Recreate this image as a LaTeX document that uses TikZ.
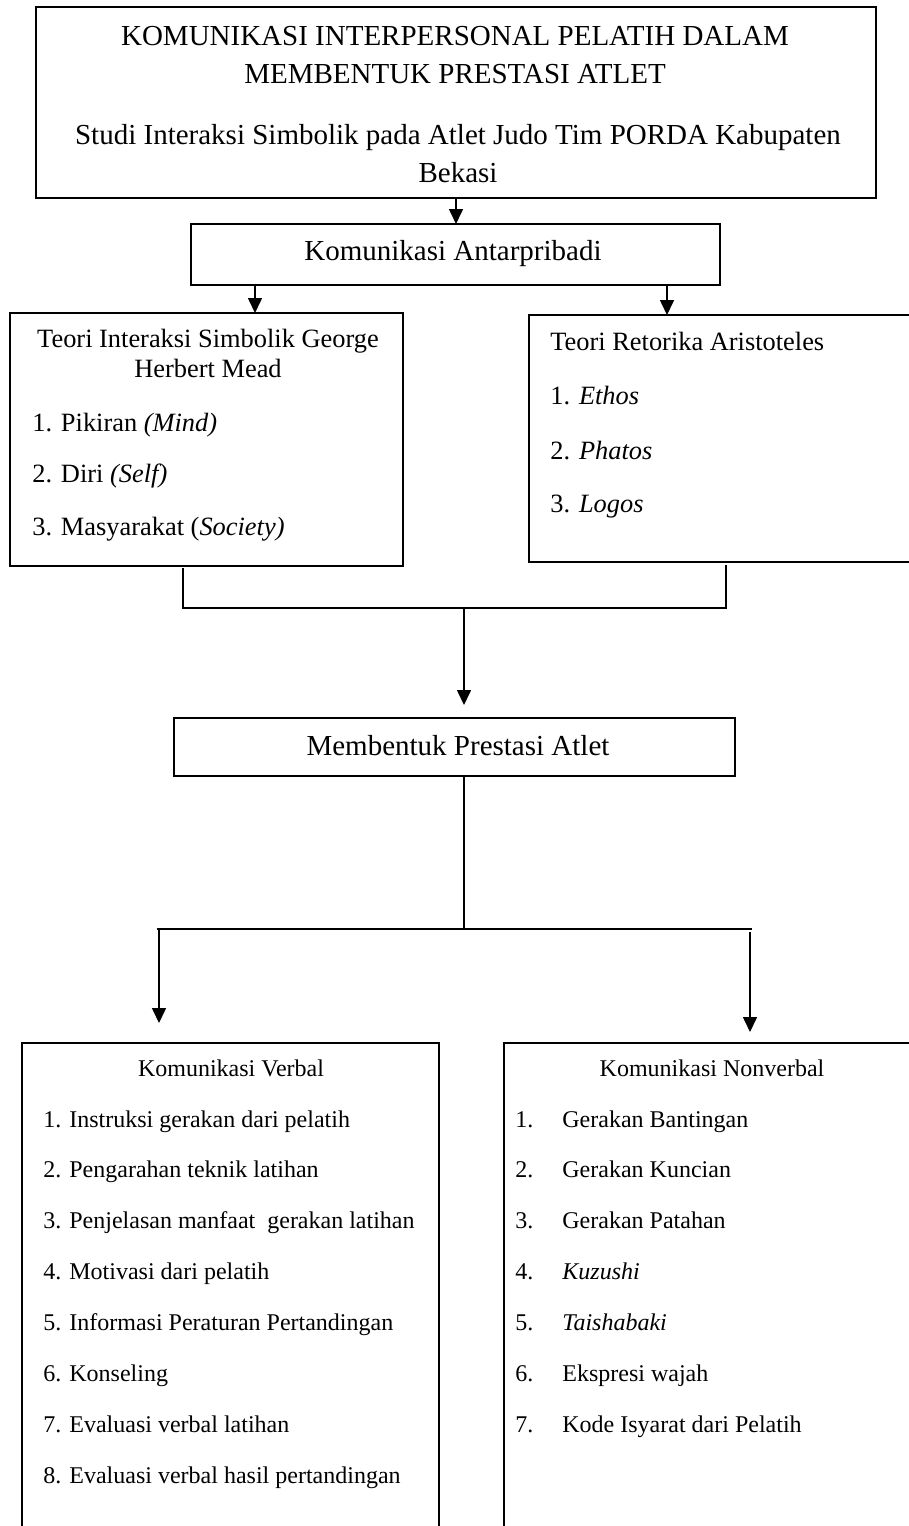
\documentclass[tikz,border=0pt]{standalone}
\usepackage{fontspec}
\setmainfont{Liberation Serif}
\usetikzlibrary{arrows.meta}
\begin{document}
\begin{tikzpicture}[x=0.5pt,y=-0.5pt,
  box/.style={draw,line width=0.9pt,inner sep=0pt,outer sep=0pt},
  conn/.style={line width=0.8pt},
  arr/.style={conn,-{Triangle[length=7.5pt,width=7pt]}},
  big/.style={font=\fontsize{14.5}{19}\selectfont,inner sep=0pt,align=center},
  mid/.style={font=\fontsize{13.2}{15}\selectfont,inner sep=0pt,align=center},
  sml/.style={font=\fontsize{12}{14}\selectfont,inner sep=0pt}]
\useasboundingbox (0,0) rectangle (909,1526);
\fill[white] (0,0) rectangle (909,1526);
\clip (0,0) rectangle (909,1526);
% boxes
\node[box,minimum width=420pt,minimum height=95.5pt] (top) at (456,102.5) {};
\node[box,minimum width=264.5pt,minimum height=30.5pt] (ka) at (455.5,254.5) {};
\node[box,minimum width=196.5pt,minimum height=126.5pt] (lb) at (206.5,439.5) {};
\node[box,minimum width=200.5pt,minimum height=123.5pt] (rb) at (729.5,438.5) {};
\node[box,minimum width=280.5pt,minimum height=29pt] (mb) at (454.5,747) {};
\node[box,minimum width=208.5pt,minimum height=258.5pt] (vb) at (230.5,1301.5) {};
\node[box,minimum width=213pt,minimum height=258.5pt] (nb) at (717,1301.5) {};
% texts (base anchor = baseline of last line)
\node[big,anchor=base] (t1) at (455,83) {KOMUNIKASI INTERPERSONAL PELATIH DALAM\\MEMBENTUK PRESTASI ATLET};
\node[big,anchor=base] (t2) at (458,182) {Studi Interaksi Simbolik pada Atlet Judo Tim PORDA Kabupaten\\Bekasi};
\node[big,anchor=base] (kat) at (453,260) {Komunikasi Antarpribadi};
\node[mid,anchor=base] (lbt) at (208,377) {Teori Interaksi Simbolik George\\Herbert Mead};
\node[mid,anchor=base west] (l1) at (32,431) {1. Pikiran \textit{(Mind)}};
\node[mid,anchor=base west] (l2) at (32,482) {2. Diri \textit{(Self)}};
\node[mid,anchor=base west] (l3) at (32,535) {3. Masyarakat (\textit{Society)}};
\node[mid,anchor=base west] (rbt) at (550,350) {Teori Retorika Aristoteles};
\node[mid,anchor=base west] (r1) at (550,404) {1. \textit{Ethos}};
\node[mid,anchor=base west] (r2) at (550,459) {2. \textit{Phatos}};
\node[mid,anchor=base west] (r3) at (550,512) {3. \textit{Logos}};
\node[big,anchor=base] (mbt) at (458,755) {Membentuk Prestasi Atlet};
\node[sml,anchor=base] (vbt) at (231,1076) {Komunikasi Verbal};
\node[sml,anchor=base] (nbt) at (712,1076) {Komunikasi Nonverbal};
\foreach \t [count=\i] in {Instruksi gerakan dari pelatih,Pengarahan teknik latihan,Penjelasan manfaat\ \ gerakan latihan,Motivasi dari pelatih,Informasi Peraturan Pertandingan,Konseling,Evaluasi verbal latihan,Evaluasi verbal hasil pertandingan}
  \node[sml,anchor=base west] (v\i) at (43,{1127+50.9*(\i-1)}) {\i. \t};
\foreach \t [count=\i] in {Gerakan Bantingan,Gerakan Kuncian,Gerakan Patahan,\textit{Kuzushi},\textit{Taishabaki},Ekspresi wajah,Kode Isyarat dari Pelatih}{
  \node[sml,anchor=base west] (nn\i) at (515,{1127+50.9*(\i-1)}) {\i.};
  \node[sml,anchor=base west] (n\i) at (562,{1127+50.9*(\i-1)}) {\t};
}
% connectors
\draw[arr] (top.south) -- (top.south |- ka.north);
\draw[arr] ([xshift=32pt]ka.south west) -- ([xshift=32pt]ka.south west |- lb.north);
\draw[arr] ([xshift=-26.5pt]ka.south east) -- ([xshift=-26.5pt]ka.south east |- rb.north);
\coordinate (jl) at (183,608);
\coordinate (jr) at (726,608);
\coordinate (jc) at (464,608);
\draw[conn] ([yshift=-1pt]jl |- lb.south) -- (jl) -- (jr) -- ([yshift=-1.5pt]jr |- rb.south);
\draw[arr] (jc) -- ([yshift=6.5pt]jc |- mb.north);
\coordinate (kc) at (464,930);
\coordinate (kl) at (157,929);
\coordinate (kr) at (752,929);
\coordinate (al) at (159,929);
\coordinate (ar) at (750,932);
\draw[conn] (mb.south -| kc) -- (kc);
\draw[conn] (kl) -- (kr);
\draw[arr] (al) -- ([yshift=10pt]al |- vb.north);
\draw[arr] (ar) -- ([yshift=5.5pt]ar |- nb.north);
\end{tikzpicture}
\end{document}
